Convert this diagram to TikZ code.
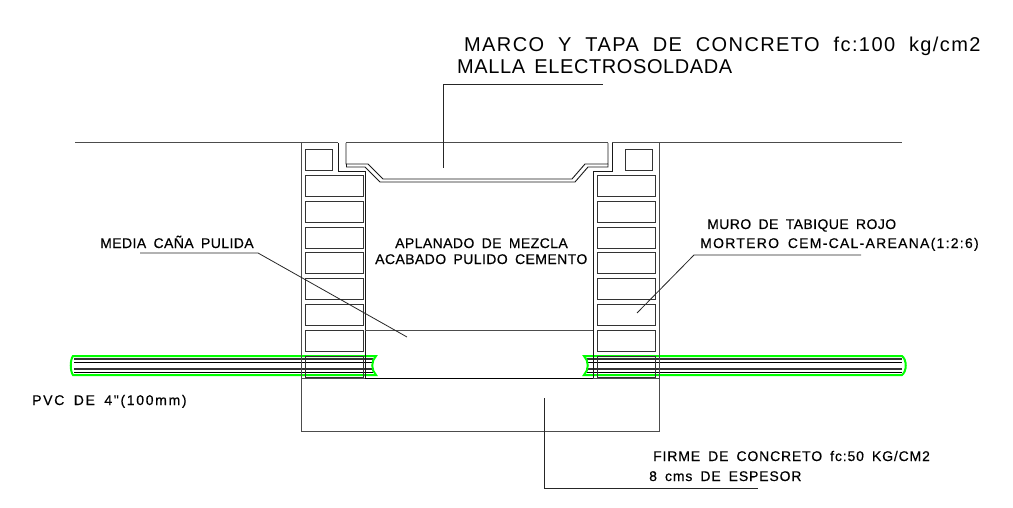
\documentclass[tikz,border=0pt]{standalone}
\usepackage{fontspec}
\setmainfont{Liberation Sans}
\newfontfamily\cadsmall[FakeBold=0.4,LetterSpace=3,WordSpace=1.7]{Liberation Sans}
\newfontfamily\cadbig[LetterSpace=7,WordSpace=2]{Liberation Sans}
\newfontfamily\cadtight[LetterSpace=3,WordSpace=1.5]{Liberation Sans}
\usetikzlibrary{positioning,calc}
\tikzset{
wall/.style = {draw=black!70, line width=1pt},
frame/.style = {draw=black!90, line width=0.9pt, line join=miter},
brick/.style = {draw=black!80, line width=0.9pt},
leader/.style = {draw=black!85, line width=0.8pt},
pipeskin/.style = {draw=green, line width=2pt},
pipecore/.style = {draw=black, line width=1.6pt},
pipelite/.style = {draw=black!80, line width=1.2pt},
small/.style = {anchor=base west, inner sep=0pt, font=\cadsmall\fontsize{14}{14}\selectfont},
spaced/.style = {font=\cadsmall\fontsize{14}{14}\selectfont\addfontfeature{LetterSpace=#1}},
big/.style = {anchor=base west, inner sep=0pt, font=\cadbig\fontsize{20}{20}\selectfont}
}
\begin{document}
\begin{tikzpicture}[x=1pt,y=-1pt]
    \useasboundingbox (0,0) rectangle (1013,508);

    % tubes first, the wall lines run over them
    \draw [pipelite] (74,359) -- (373,359);
    \draw [pipecore] (74,362.5) -- (373,362.5);
    \draw [pipelite] (74,369) -- (373,369);
    \draw [pipecore] (74,372.5) -- (373,372.5);
    \draw [pipeskin] (376,356) -- (73,356) .. controls (70,360) and (70,371) .. (73,375) -- (376,375) .. controls (371,370) and (371,361) .. (376,356) -- cycle;
    \draw [pipelite] (587,359) -- (902,359);
    \draw [pipecore] (587,362.5) -- (902,362.5);
    \draw [pipelite] (587,369) -- (902,369);
    \draw [pipecore] (587,372.5) -- (902,372.5);
    \draw [pipeskin] (584,356) -- (902,356) .. controls (907,360) and (907,371) .. (902,375) -- (584,375) .. controls (589,370) and (589,361) .. (584,356) -- cycle;

    % ground
    \draw [wall] (75,143) -- (338,143);
    \draw [wall] (346,143) -- (608,143);
    \draw [wall] (612,143) -- (902,143);

    % walls and slab
    \draw [wall] (301,143) -- (301,431) -- (659,431) -- (659,143);
    \draw [frame] (338,143) -- (338,171) -- (365,171) -- (365,378);
    \draw [frame] (612,143) -- (612,171) -- (593,171) -- (593,378);
    \draw [draw=black, line width=1pt] (365,378) -- (593,378);
    \draw [wall] (301,378) -- (365,378);
    \draw [wall] (593,378) -- (659,378);
    \draw [wall] (365,330) -- (593,330);

    % lid
    \draw [frame] (346,143) -- (346,164) -- (368,164) -- (383,179) -- (572,179) -- (585,164) -- (608,164) -- (608,143);
    \draw [frame] (346,167) -- (365,167) -- (380,182) -- (575,182) -- (588,167) -- (608,167) -- (608,164);
    \draw [frame] (346,164) -- (346,167);

    % bricks
    \draw [brick] (305,149) rectangle (332,170);
    \draw [brick] (625,149) rectangle (652,170);
    \foreach \y in {175,201,227,252.5,278,304,330,356} {
        \draw [brick] (305,\y) rectangle (363,\y+21);
        \draw [brick] (597,\y) rectangle (655,\y+21);
    }

    % leaders
    \coordinate (lidtip) at (443,168);
    \coordinate (lidend) at (603,84);
    \draw [leader] (lidtip) |- (lidend);
    \coordinate (canatail) at (140,253);
    \coordinate (canaknee) at (258,253);
    \coordinate (canatip) at (407,337);
    \draw [leader] (canatail) -- (canaknee) -- (canatip);
    \coordinate (murotail) at (861,255);
    \coordinate (muroknee) at (694,255);
    \coordinate (murotip) at (637,313);
    \draw [leader] (murotail) -- (muroknee) -- (murotip);
    \coordinate (firmetip) at (544,398);
    \coordinate (firmeend) at (758,488);
    \draw [leader] (firmetip) |- (firmeend);

    % labels
    \node [big] (marco) at (464,52) {MARCO Y TAPA DE CONCRETO fc:100 kg/cm2};
    \node [big, font=\cadtight\fontsize{20}{20}\selectfont] (malla) at (457,74) {MALLA ELECTROSOLDADA};
    \node [small] (media) at (100,248) {MEDIA CAÑA PULIDA};
    \node [small] (aplanado) at (395,248) {APLANADO DE MEZCLA};
    \node [small] (acabado) at (375,264) {ACABADO PULIDO CEMENTO};
    \node [small] (muro) at (707,229) {MURO DE TABIQUE ROJO};
    \node [small, spaced=9] (mortero) at (700,248) {MORTERO CEM-CAL-AREANA(1:2:6)};
    \node [small, spaced=12] (pvc) at (32,405) {PVC DE 4"(100mm)};
    \node [small, spaced=6] (firme) at (653,461) {FIRME DE CONCRETO fc:50 KG/CM2};
    \node [small, spaced=6] (espesor) at (649,481) {8 cms DE ESPESOR};
\end{tikzpicture}
\end{document}
